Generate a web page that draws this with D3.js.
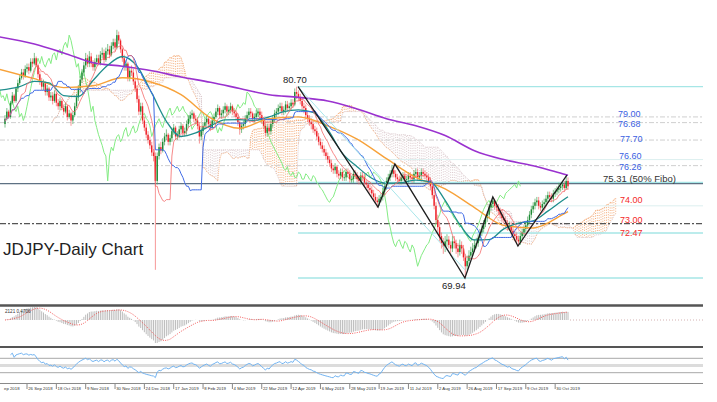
<!DOCTYPE html>
<html><head><meta charset="utf-8">
<script src="https://cdn.jsdelivr.net/npm/d3@7/dist/d3.min.js"></script>
<style>html,body{margin:0;padding:0;background:#fff;}svg{display:block;font-family:"Liberation Sans",Arial,sans-serif;}</style>
</head><body><svg id="c" width="717" height="402"></svg>
<script>
// ---------------- DATA ----------------
const firstOpen = 78.6;
const closes = [
78.9,79.3,79.0,79.8,80.2,79.9,80.6,80.9,81.2,81.5,
81.3,81.7,81.8,81.6,82.1,82.0,82.3,81.9,81.4,81.0,
80.7,80.9,80.4,80.6,80.1,80.2,79.9,80.3,79.8,79.6,
79.9,79.5,79.3,79.6,79.0,79.2,78.8,79.1,79.6,80.1,
80.6,81.1,81.5,81.9,82.3,82.0,82.4,82.0,81.8,82.1,
82.3,82.0,82.5,82.6,82.2,82.7,82.8,82.5,83.0,83.2,
82.9,83.6,83.3,82.8,82.3,81.8,82.0,81.2,81.6,81.5,
81.0,80.6,80.0,79.3,79.6,78.8,78.4,78.0,77.7,77.4,
77.0,76.8,75.4,76.8,77.3,77.1,77.6,77.9,78.0,77.6,
77.8,78.2,78.4,77.9,78.0,78.3,78.5,78.1,78.2,78.6,
78.9,79.1,79.2,78.9,78.8,78.5,77.9,78.2,78.5,78.7,
78.9,78.6,78.4,78.8,79.0,79.3,79.5,79.1,79.2,79.4,
79.6,79.3,79.4,79.6,79.3,79.2,79.0,78.7,78.3,78.5,
78.6,78.9,79.1,79.3,79.2,78.9,79.0,79.2,79.3,79.1,
78.8,78.5,78.1,78.4,78.2,78.6,78.9,79.2,79.3,79.5,
79.6,79.3,79.4,79.7,79.5,79.6,79.8,79.7,80.4,80.3,
80.1,79.9,79.6,79.5,79.1,78.9,78.7,78.6,78.3,78.2,
77.9,77.6,77.4,77.2,77.0,76.8,76.6,76.4,76.1,76.0,
76.2,75.8,75.7,75.9,75.6,75.6,75.9,75.8,75.5,75.5,
75.8,75.7,75.5,75.4,75.7,75.6,75.3,75.2,75.0,74.9,
74.7,74.5,74.3,74.2,74.4,74.5,74.8,75.1,75.4,75.6,
75.8,76.0,75.8,75.6,75.5,75.4,75.6,75.7,75.5,75.5,
75.7,75.6,75.5,75.8,75.9,75.6,75.7,75.9,75.8,75.7,
75.6,75.4,75.1,74.6,74.0,73.2,72.8,72.3,71.9,71.7,
72.0,72.1,71.8,71.6,72.0,71.9,71.6,71.4,71.8,71.6,
71.1,70.6,70.9,71.2,71.4,71.6,71.8,71.9,72.2,72.5,
72.7,73.0,73.3,73.5,73.9,74.1,74.3,74.0,73.9,73.7,
73.5,73.3,73.2,73.0,72.8,72.9,72.6,72.4,72.3,72.1,
72.0,72.3,72.5,72.7,72.9,73.2,73.5,73.8,74.0,74.2,
74.3,74.0,73.9,74.1,74.2,74.4,74.6,74.5,74.4,74.7,
74.8,74.9,75.0,75.1,75.2,75.0,75.4,75.1];
const highs = [
79.1,79.5,79.4,79.9,80.4,80.3,80.7,81.1,81.4,81.7,
81.7,81.9,82.0,82.0,82.3,82.3,82.6,82.4,82.0,81.6,
81.2,81.1,81.0,80.8,80.7,80.4,80.4,80.5,80.4,80.0,
80.1,80.0,79.7,79.8,79.7,79.4,79.3,79.3,79.8,80.3,
80.8,81.3,81.7,82.1,82.6,82.5,82.7,82.6,82.2,82.3,
82.5,82.5,82.7,82.9,82.8,82.9,83.1,83.0,83.2,83.4,
83.4,83.9,83.8,83.4,82.9,82.5,82.2,82.1,81.8,81.9,
81.7,81.2,80.8,80.2,79.8,79.8,79.0,78.6,78.2,77.9,
77.6,77.2,77.0,77.0,77.5,77.6,77.8,78.1,78.3,78.1,
78.0,78.4,78.6,78.5,78.2,78.5,78.7,78.6,78.4,78.8,
79.1,79.3,79.4,79.3,79.1,79.0,78.7,78.4,78.7,78.9,
79.1,79.0,78.8,79.0,79.2,79.5,79.7,79.6,79.4,79.6,
79.8,79.7,79.6,79.8,79.7,79.5,79.4,79.2,78.8,78.7,
78.8,79.1,79.3,79.5,79.5,79.3,79.2,79.4,79.5,79.5,
79.3,79.0,78.7,78.6,78.6,78.8,79.1,79.4,79.5,79.7,
79.8,79.8,79.6,79.9,79.9,79.8,80.0,80.0,80.6,80.7,
80.5,80.3,80.1,79.8,79.7,79.3,79.1,78.9,78.8,78.5,
78.4,78.1,77.8,77.6,77.4,77.2,77.0,76.8,76.6,76.3,
76.4,76.3,76.0,76.1,76.1,75.8,76.1,76.1,76.0,75.7,
76.0,76.0,75.9,75.7,75.9,75.9,75.8,75.5,75.4,75.2,
75.1,74.9,74.7,74.5,74.6,74.7,75.0,75.3,75.6,75.8,
76.0,76.3,76.2,76.0,75.8,75.7,75.8,75.9,75.9,75.7,
75.9,75.9,75.8,76.0,76.1,76.1,75.9,76.1,76.1,76.0,
75.9,75.8,75.6,75.3,74.8,74.2,73.5,73.1,72.5,72.2,
72.3,72.4,72.3,72.0,72.3,72.3,72.1,71.9,72.1,72.0,
71.8,71.3,71.2,71.5,71.7,71.9,72.1,72.2,72.4,72.7,
72.9,73.2,73.5,73.7,74.1,74.3,74.5,74.4,74.2,74.1,
73.9,73.8,73.6,73.4,73.2,73.1,73.1,72.8,72.6,72.5,
72.3,72.5,72.7,72.9,73.1,73.4,73.7,74.0,74.2,74.4,
74.5,74.5,74.2,74.3,74.4,74.6,74.8,74.8,74.7,74.9,
75.0,75.1,75.3,75.3,75.4,75.4,75.7,75.6];
const lows = [
78.4,78.8,78.9,78.9,79.7,79.8,79.8,80.4,80.8,81.1,
81.1,81.2,81.5,81.4,81.5,81.8,81.9,81.8,81.2,80.8,
80.5,80.5,80.2,80.2,79.9,79.9,79.7,79.8,79.6,79.4,
79.4,79.4,79.1,79.2,78.8,78.9,78.5,78.6,79.0,79.5,
79.9,80.4,80.9,81.3,81.7,81.8,81.8,81.8,81.6,81.6,
81.9,81.9,81.9,82.3,82.0,82.1,82.5,82.3,82.4,82.8,
82.7,82.8,83.1,82.6,82.1,81.6,81.6,81.0,81.0,81.3,
80.8,80.4,79.8,79.1,79.1,78.6,78.2,77.8,77.5,77.2,
76.8,76.5,70.4,75.2,76.6,76.9,77.0,77.4,77.7,77.4,
77.4,77.6,78.0,77.7,77.7,77.8,78.1,77.9,77.9,78.0,
78.4,78.7,78.9,78.7,78.6,78.3,77.5,77.7,78.0,78.3,
78.5,78.4,78.2,78.3,78.6,78.9,79.1,78.9,78.9,79.0,
79.2,79.1,79.1,79.2,79.1,79.0,78.8,78.5,78.0,78.1,
78.3,78.4,78.7,78.9,79.0,78.7,78.7,78.8,79.0,78.9,
78.6,78.3,77.9,77.9,78.0,78.0,78.4,78.7,79.0,79.1,
79.3,79.1,79.1,79.2,79.3,79.3,79.4,79.5,79.6,80.0,
79.9,79.7,79.4,79.2,78.9,78.7,78.5,78.3,78.1,78.0,
77.7,77.4,77.2,77.0,76.8,76.6,76.4,76.2,75.9,75.8,
75.8,75.6,75.5,75.5,75.4,75.4,75.4,75.6,75.3,75.3,
75.3,75.5,75.3,75.2,75.2,75.4,75.1,75.0,74.8,74.7,
74.5,74.3,74.1,73.9,74.0,74.2,74.3,74.6,74.9,75.2,
75.4,75.6,75.6,75.4,75.3,75.2,75.2,75.4,75.3,75.3,
75.3,75.4,75.3,75.3,75.6,75.4,75.4,75.5,75.6,75.5,
75.4,75.2,74.9,74.4,73.8,73.0,72.5,72.0,71.6,71.3,
71.4,71.7,71.6,71.2,71.4,71.6,71.3,71.1,71.2,71.3,
70.9,69.94,70.4,70.7,71.0,71.2,71.4,71.6,71.7,72.0,
72.3,72.5,72.8,73.1,73.3,73.7,73.9,73.8,73.7,73.5,
73.3,73.1,73.0,72.8,72.6,72.6,72.4,72.2,72.0,71.9,
71.75,71.8,72.1,72.3,72.5,72.7,73.0,73.3,73.6,73.8,
74.0,73.8,73.7,73.7,73.9,74.0,74.2,74.3,74.2,74.2,
74.5,74.6,74.7,74.8,74.9,74.8,74.9,74.9];

// moving averages (bar index -> value)
const maIdx = [-3,16,32,48,64,80,96,112,128,144,160,176,192,208,224,240,256,272,288,304,307];
const sma200 = [83.5,83.1,82.6,82.05,81.85,81.6,81.25,80.95,80.6,80.25,80.1,79.9,79.45,78.9,78.5,77.95,77.1,76.6,76.25,75.8,75.72];
const sma100 = [81.68,81.15,80.65,80.75,81.2,80.95,80.25,78.95,78.36,78.9,79.0,78.5,77.75,76.65,75.6,74.95,73.9,72.9,72.75,73.5,73.67];
const emaIdx = [-3,8,16,24,32,40,48,56,64,72,80,88,96,104,112,120,128,136,144,152,160,168,176,184,192,200,208,216,224,232,240,248,256,264,272,280,288,296,304,307];
const ema50 = [80.5,80.7,81.0,80.92,80.2,80.15,81.05,81.9,82.4,81.85,80.35,78.75,77.9,78.1,78.5,78.83,78.85,78.8,79.0,79.3,79.4,79.25,78.3,76.95,76.2,75.55,75.27,75.3,75.45,75.35,74.3,72.95,72.08,72.1,72.7,73.02,73.15,73.7,74.3,74.51];

// x-axis ticks
const tickIdx = [-4,12,28,44,60,76,92,108,124,140,156,172,188,204,220,236,252,268,284,300];
const tickLabels = ["ep 2018","26 Sep 2018","18 Oct 2018","9 Nov 2018","30 Nov 2018","24 Dec 2018","17 Jan 2019","8 Feb 2019","4 Mar 2019","22 Mar 2019","12 Apr 2019","6 May 2019","28 May 2019","19 Jun 2019","11 Jul 2019","2 Aug 2019","26 Aug 2019","17 Sep 2019","9 Oct 2019","30 Oct 2019"];

// annotation levels
const fibHigh = 80.70, fibLow = 69.94;
const fibLevels = [80.70, 76.60, 75.32, 74.00, 72.47, 69.94];
const grayLevels = [79.00, 78.68, 77.70, 76.26];
const pivotLevel = 75.25;
const supportLevel = 73.00;
const zigzag = [[159.8,80.70],[203.4,73.93],[212.6,76.35],[250.8,69.94],[266,74.5],[279.7,71.74],[306.4,75.73]];
const trendLine = [[159.8,80.70],[250.8,70.4]];
const blueLabels = ["79.00","76.68","77.70","76.60","76.26"];
const redLabels = ["74.00","73.00","72.47"];
const fiboLabel = "75.31 (50% Fibo)";
const title = "JDJPY-Daily Chart";
const macdLabel = "2121 0.4706";

// ---------------- DRAW ----------------
const svg = d3.select("#c");
const RIGHT = 703;
const N = closes.length;
const x = d3.scaleLinear().domain([0, N - 1]).range([5, 568]);
const y = d3.scaleLinear().domain([fibLow, fibHigh]).range([278, 86.7]);
const opens = closes.map((c, i) => i === 0 ? firstOpen : closes[i - 1]);

const defs = svg.append("defs");
defs.append("clipPath").attr("id", "mc").append("rect").attr("x", 0).attr("y", 0).attr("width", RIGHT).attr("height", 303);
defs.append("clipPath").attr("id", "macdc").append("rect").attr("x", 0).attr("y", 307).attr("width", RIGHT).attr("height", 39);
const main = svg.append("g").attr("clip-path", "url(#mc)");

// Ichimoku
function mid(i, n) { const s = Math.max(0, i - n + 1); return (d3.max(highs.slice(s, i + 1)) + d3.min(lows.slice(s, i + 1))) / 2; }
const tenkan = closes.map((_, i) => mid(i, 9));
const kijun = closes.map((_, i) => mid(i, 26));
const cloud = closes.map((_, i) => ({ j: i + 26, a: (tenkan[i] + kijun[i]) / 2, b: mid(i, 52) }));

const gCloud = main.append("g");
gCloud.selectAll("line").data(cloud).join("line")
  .attr("x1", d => x(d.j)).attr("x2", d => x(d.j))
  .attr("y1", d => y(d.a)).attr("y2", d => y(d.b))
  .attr("stroke", d => d.a >= d.b ? "#f3a56e" : "#d8c4c8")
  .attr("stroke-width", 0.9).attr("stroke-dasharray", "1,1.5");
gCloud.append("path").datum(cloud).attr("fill", "none").attr("stroke", "#f3a56e").attr("stroke-width", 0.8).attr("stroke-dasharray", "1,1")
  .attr("d", d3.line().x(d => x(d.j)).y(d => y(d.a)));
gCloud.append("path").datum(cloud).attr("fill", "none").attr("stroke", "#d3bcc2").attr("stroke-width", 0.8).attr("stroke-dasharray", "1,1")
  .attr("d", d3.line().x(d => x(d.j)).y(d => y(d.b)));

// horizontal levels
const gLev = main.append("g");
gLev.selectAll("line.g").data(grayLevels).join("line").attr("class", "g")
  .attr("x1", 0).attr("x2", RIGHT).attr("y1", d => y(d)).attr("y2", d => y(d))
  .attr("stroke", "#cfcfcf").attr("stroke-width", 1).attr("stroke-dasharray", "5,2,2,2");
gLev.selectAll("line.f").data(fibLevels).join("line").attr("class", "f")
  .attr("x1", x(zigzag[0][0])).attr("x2", RIGHT).attr("y1", d => y(d)).attr("y2", d => y(d))
  .attr("stroke", d => (d === 76.60 || d === 74.00) ? "#dcefef" : "#a6e6e6").attr("stroke-width", d => (d === 76.60 || d === 74.00) ? 1 : 1.3);
gLev.append("line").attr("x1", 0).attr("x2", RIGHT).attr("y1", y(pivotLevel)).attr("y2", y(pivotLevel))
  .attr("stroke", "#5e7183").attr("stroke-width", 1.1);
gLev.append("line").attr("x1", 0).attr("x2", RIGHT).attr("y1", y(supportLevel)).attr("y2", y(supportLevel))
  .attr("stroke", "#555").attr("stroke-width", 1.1).attr("stroke-dasharray", "6,2,2,2");

// chikou span
main.append("path").datum(closes).attr("fill", "none").attr("stroke", "#84ec84").attr("stroke-width", 1)
  .attr("d", d3.line().x((d, i) => x(i - 26)).y(d => y(d)));

// candles
const bars = closes.map((c, i) => ({ i, o: opens[i], h: highs[i], l: lows[i], c }));
const gC = main.append("g");
gC.selectAll("line").data(bars).join("line")
  .attr("x1", d => x(d.i)).attr("x2", d => x(d.i)).attr("y1", d => y(d.h)).attr("y2", d => y(d.l))
  .attr("stroke", d => d.c >= d.o ? "#4aa55a" : "#f26a6a").attr("stroke-width", 0.7);
gC.selectAll("rect").data(bars).join("rect")
  .attr("x", d => x(d.i) - 0.7).attr("width", 1.4)
  .attr("y", d => y(Math.max(d.o, d.c))).attr("height", d => Math.max(0.8, Math.abs(y(d.o) - y(d.c))))
  .attr("fill", d => d.c >= d.o ? "#1d8a35" : "#ee2028");

// moving averages
const maLine = (idx) => d3.line().curve(d3.curveMonotoneX).x((d, k) => x(idx[k])).y(d => y(d));
main.append("path").datum(sma200).attr("fill", "none").attr("stroke", "#9a32cf").attr("stroke-width", 1.6).attr("d", maLine(maIdx));
main.append("path").datum(sma100).attr("fill", "none").attr("stroke", "#f7a23a").attr("stroke-width", 1.4).attr("d", maLine(maIdx));
main.append("path").datum(ema50).attr("fill", "none").attr("stroke", "#1f8e8c").attr("stroke-width", 1.3).attr("d", maLine(emaIdx));
main.append("path").datum(kijun).attr("fill", "none").attr("stroke", "#3f6ae6").attr("stroke-width", 1)
  .attr("d", d3.line().x((d, i) => x(i)).y(d => y(d)));
main.append("path").datum(tenkan).attr("fill", "none").attr("stroke", "#f46a6a").attr("stroke-width", 0.8)
  .attr("d", d3.line().x((d, i) => x(i)).y(d => y(d)));

// trend line & zigzag
main.append("path").datum(trendLine).attr("fill", "none").attr("stroke", "#a8e6ea").attr("stroke-width", 1)
  .attr("d", d3.line().x(d => x(d[0])).y(d => y(d[1])));
main.append("path").datum(zigzag).attr("fill", "none").attr("stroke", "#1e1e1e").attr("stroke-width", 1.3)
  .attr("d", d3.line().x(d => x(d[0])).y(d => y(d[1])));

// labels
const lab = svg.append("g").attr("font-size", "9px");
const bluePos = [[618, 116.5], [618, 127], [620, 141.5], [619, 159.3], [619, 169.5]];
lab.selectAll("text.b").data(blueLabels).join("text").attr("class", "b")
  .attr("x", (d, k) => bluePos[k][0]).attr("y", (d, k) => bluePos[k][1]).attr("fill", "#3b5fe2").text(d => d);
const redPos = [[620, 203], [620, 223], [620, 235.5]];
lab.selectAll("text.r").data(redLabels).join("text").attr("class", "r")
  .attr("x", (d, k) => redPos[k][0]).attr("y", (d, k) => redPos[k][1]).attr("fill", "#f42a2a").text(d => d);
const lab2 = svg.append("g").attr("font-size", "9.5px");
lab2.append("text").attr("x", 603).attr("y", 181.5).attr("fill", "#333").text(fiboLabel);
lab2.append("text").attr("x", x(zigzag[0][0]) - 15).attr("y", y(fibHigh) - 3.5).attr("fill", "#222").text(fibHigh.toFixed(2));
lab2.append("text").attr("x", x(zigzag[3][0]) - 23).attr("y", y(fibLow) + 10.5).attr("fill", "#222").text(fibLow.toFixed(2));
svg.append("text").attr("x", 3).attr("y", 255).attr("font-size", "17px").attr("fill", "#222").text(title);

// ---------------- MACD panel ----------------
function emaSeries(arr, n) { const k = 2 / (n + 1); const out = []; arr.forEach((v, i) => out.push(i === 0 ? v : v * k + out[i - 1] * (1 - k))); return out; }
const e12 = emaSeries(closes, 12), e26 = emaSeries(closes, 26);
const macd = closes.map((_, i) => e12[i] - e26[i]);
const signal = macd.map((_, i) => d3.mean(macd.slice(Math.max(0, i - 8), i + 1)));
const mMin = d3.min(macd);
const kScale = 23 / -mMin;
const ym = d3.scaleLinear().domain([-1, 1]).range([320 + kScale, 320 - kScale]);
svg.append("line").attr("x1", 0).attr("x2", RIGHT).attr("y1", 305.5).attr("y2", 305.5).attr("stroke", "#555").attr("stroke-width", 2.4);
const gm = svg.append("g").attr("clip-path", "url(#macdc)");
gm.selectAll("line").data(macd).join("line")
  .attr("x1", (d, i) => x(i)).attr("x2", (d, i) => x(i)).attr("y1", ym(0)).attr("y2", d => ym(d))
  .attr("stroke", "#b4b4b4").attr("stroke-width", 0.9);
gm.append("path").datum(signal).attr("fill", "none").attr("stroke", "#f04848").attr("stroke-width", 0.9).attr("stroke-dasharray", "1,1.3")
  .attr("d", d3.line().x((d, i) => x(i)).y(d => ym(d)));
gm.append("line").attr("x1", x(N - 1) + 2).attr("x2", RIGHT).attr("y1", ym(0)).attr("y2", ym(0))
  .attr("stroke", "#c9a0a0").attr("stroke-width", 0.8).attr("stroke-dasharray", "1,2");
svg.append("text").attr("x", 5).attr("y", 313).attr("font-size", "4.6px").attr("fill", "#333").text(macdLabel);

// ---------------- RSI panel ----------------
const rsi = [];
let ag = 0, al = 0;
for (let i = 1; i < N; i++) {
  const ch = closes[i] - closes[i - 1];
  const g = Math.max(ch, 0), l = Math.max(-ch, 0);
  if (i <= 14) { ag = (ag * (i - 1) + g) / i; al = (al * (i - 1) + l) / i; }
  else { ag = (ag * 13 + g) / 14; al = (al * 13 + l) / 14; }
  rsi.push({ i, v: al === 0 ? 100 : 100 - 100 / (1 + ag / al) });
}
const yr = d3.scaleLinear().domain([0, 100]).range([383.5, 347.5]);
svg.append("line").attr("x1", 0).attr("x2", RIGHT).attr("y1", 347).attr("y2", 347).attr("stroke", "#555").attr("stroke-width", 2.2);
svg.append("line").attr("x1", 0).attr("x2", RIGHT).attr("y1", yr(50)).attr("y2", yr(50)).attr("stroke", "#dcdcdc").attr("stroke-width", 3);
[70, 30].forEach(v => svg.append("line").attr("x1", 0).attr("x2", RIGHT).attr("y1", yr(v)).attr("y2", yr(v)).attr("stroke", "#a8a8a8").attr("stroke-width", 1));
svg.append("path").datum(rsi.filter(d => d.i >= 3)).attr("fill", "none").attr("stroke", "#72b4f2").attr("stroke-width", 1)
  .attr("d", d3.line().x(d => x(d.i)).y(d => yr(d.v)));

// ---------------- x axis ----------------
svg.append("line").attr("x1", 0).attr("x2", RIGHT).attr("y1", 383.5).attr("y2", 383.5).attr("stroke", "#8a8a8a").attr("stroke-width", 1);
const gx = svg.append("g");
tickIdx.forEach((t, k) => {
  const xx = x(t);
  if (xx > 2) gx.append("line").attr("x1", xx).attr("x2", xx).attr("y1", 384).attr("y2", 389).attr("stroke", "#555").attr("stroke-width", 0.7);
  gx.append("text").attr("x", Math.max(xx + 1.2, 4)).attr("y", 389.8).attr("font-size", "4.3px").attr("fill", "#333").text(tickLabels[k]);
});
</script></body></html>
